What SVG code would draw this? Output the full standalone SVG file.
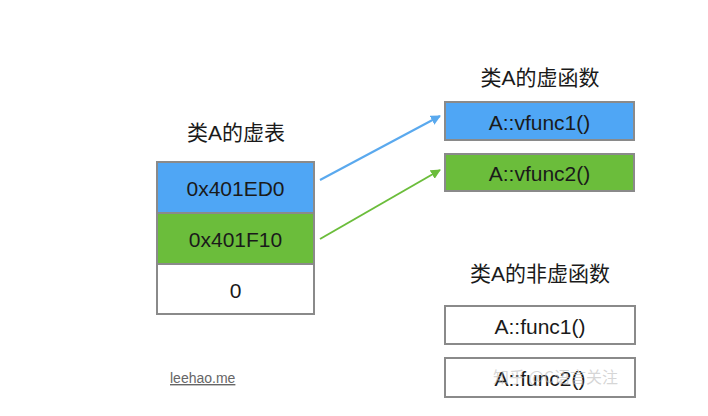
<svg xmlns="http://www.w3.org/2000/svg" width="708" height="416" viewBox="0 0 708 416">
<defs>
<style>
.t{font-family:"Liberation Sans","Noto Sans CJK SC",sans-serif;font-size:21px;fill:#1a1a1a;text-anchor:middle;dominant-baseline:central}
.cell{stroke:#8a8a8a;stroke-width:2}
.blue{fill:#4fa6f5}
.green{fill:#6bbd3b}
.white{fill:#fff}
</style>
<marker id="ab" viewBox="0 0 10 10" refX="9" refY="5" markerWidth="5" markerHeight="5" orient="auto"><path d="M0,0L10,5L0,10z" fill="#5aa9ee"/></marker>
<marker id="ag" viewBox="0 0 10 10" refX="9" refY="5" markerWidth="5" markerHeight="5" orient="auto"><path d="M0,0L10,5L0,10z" fill="#6bbd3b"/></marker>
</defs>
<rect width="708" height="416" fill="#fff"/>
<g id="vtable-title"><text class="t" x="236" y="132">类A的虚表</text></g>
<g id="vtable">
<g id="row1"><rect class="cell blue" x="157" y="162" width="157" height="51"/><text class="t" x="235.5" y="188">0x401ED0</text></g>
<g id="row2"><rect class="cell green" x="157" y="213" width="157" height="51"/><text class="t" x="235.5" y="239">0x401F10</text></g>
<g id="row3"><rect class="cell white" x="157" y="264" width="157" height="50"/><text class="t" x="235.5" y="290">0</text></g>
</g>
<g id="vfunc-title"><text class="t" x="540" y="77">类A的虚函数</text></g>
<g id="vfunc1"><rect class="cell blue" x="445" y="102" width="189" height="38"/><text class="t" x="539.5" y="122">A::vfunc1()</text></g>
<g id="vfunc2"><rect class="cell green" x="445" y="154" width="189" height="37"/><text class="t" x="539.5" y="173">A::vfunc2()</text></g>
<g id="func-title"><text class="t" x="540" y="273">类A的非虚函数</text></g>
<g id="func1"><rect class="cell white" x="445" y="306" width="190" height="38"/><text class="t" x="540" y="326">A::func1()</text></g>
<g id="func2"><rect class="cell white" x="445" y="358" width="190" height="39"/><text class="t" x="540" y="378">A::func2()</text></g>
<g id="connectors">
<line x1="320" y1="180" x2="440" y2="116" stroke="#5aa9ee" stroke-width="2" marker-end="url(#ab)"/>
<line x1="320" y1="239" x2="440" y2="170" stroke="#6bbd3b" stroke-width="2" marker-end="url(#ag)"/>
</g>
<text x="170" y="383" font-family="Liberation Sans,sans-serif" font-size="14" fill="#666" text-decoration="underline">leehao.me</text>
<text x="493" y="376" font-family="Noto Sans CJK SC,sans-serif" font-size="16" fill="#bbb" fill-opacity="0.6" dominant-baseline="central">知乎 @C语言关注</text>
</svg>
